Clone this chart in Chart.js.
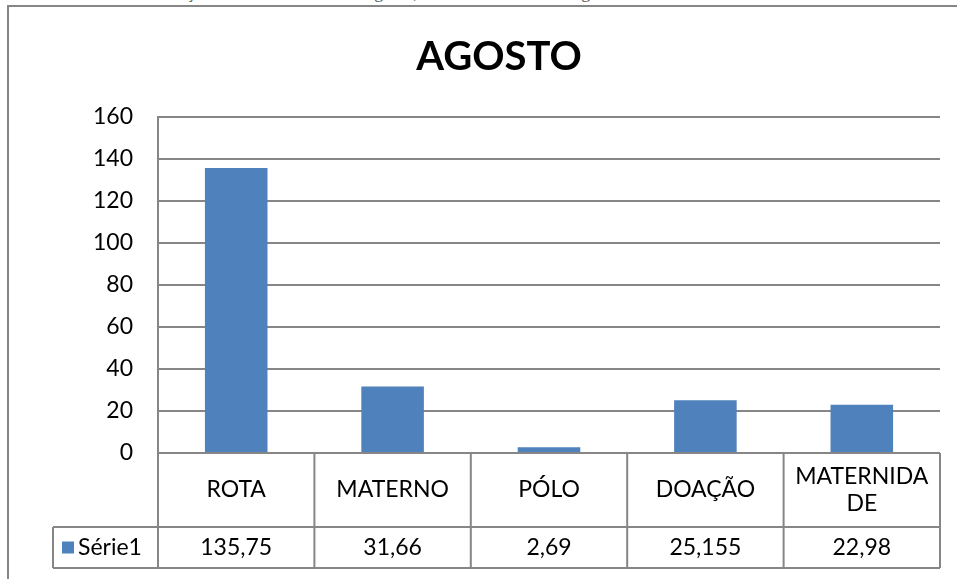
<!DOCTYPE html>
<html>
<head>
<meta charset="utf-8">
<script src="https://cdn.jsdelivr.net/npm/chart.js@4.4.0/dist/chart.umd.min.js"></script>
<style>
	html, body { margin: 0; padding: 0; background: #fff; overflow: hidden; }
	#caption {
		position: absolute; left: 20px; top: -18px; margin: 0;
		font-family: 'Liberation Serif', serif; font-size: 18px; color: #555;
		white-space: nowrap;
	}
	#wrap { position: absolute; left: 0; top: 0; width: 957px; height: 579px; }
</style>
</head>
<body>
<p id="caption">Gráfico 4: Total de doações em kilos do mês de agosto, de acordo com as categorias.</p>
<div id="wrap"><canvas id="chart" width="957" height="579"></canvas></div>
<script>
const categories = ['ROTA', 'MATERNO', 'PÓLO', 'DOAÇÃO', ['MATERNIDA', 'DE']]
const seriesName = 'Série1'
const values = [135.75, 31.66, 2.69, 25.155, 22.98]
const yTicks = [0, 20, 40, 60, 80, 100, 120, 140, 160]

const BAR = '#4F81BD'
const LINE = '#868686'
const FONT = 'Lato'

// border around the whole chart object
const frame = {
	id: 'frame',
	beforeDraw(chart) {
		const c = chart.ctx
		c.save()
		c.strokeStyle = LINE
		c.lineWidth = 2
		c.strokeRect(8, 6, 1200, 1200)
		c.restore()
	},
}

// data table under the plot
const dataTable = {
	id: 'dataTable',
	afterDraw(chart) {
		const c = chart.ctx
		const area = chart.chartArea
		const x = chart.scales.x
		const top = area.bottom
		const mid = top + 74
		const bot = mid + 41
		const legendLeft = 53

		const edges = [area.left]
		for (let i = 1; i < values.length; i++) {
			edges.push((x.getPixelForValue(i - 1) + x.getPixelForValue(i)) / 2)
		}
		edges.push(area.right)

		c.save()
		c.strokeStyle = LINE
		c.lineWidth = 2
		c.beginPath()
		c.moveTo(area.left, top); c.lineTo(area.right, top)
		c.moveTo(legendLeft, mid); c.lineTo(area.right, mid)
		c.moveTo(legendLeft, bot); c.lineTo(area.right, bot)
		c.moveTo(legendLeft, mid); c.lineTo(legendLeft, bot)
		edges.forEach((e) => { c.moveTo(e, top); c.lineTo(e, bot) })
		c.stroke()

		c.fillStyle = '#000'
		c.font = `23px ${FONT}`
		c.textAlign = 'center'
		c.textBaseline = 'middle'
		categories.forEach((cat, i) => {
			const cx = x.getPixelForValue(i)
			const lines = Array.isArray(cat) ? cat : [cat]
			const lh = 27
			const y0 = (top + mid) / 2 - ((lines.length - 1) * lh) / 2
			lines.forEach((l, j) => c.fillText(l, cx, y0 + j * lh))
			c.fillText(String(values[i]).replace('.', ','), cx, (mid + bot) / 2)
		})

		c.fillStyle = BAR
		c.fillRect(62, (mid + bot) / 2 - 6, 12, 12)
		c.fillStyle = '#000'
		c.textAlign = 'left'
		c.fillText(seriesName, 78, (mid + bot) / 2)
		c.restore()
	},
}

new Chart(document.getElementById('chart'), {
	type: 'bar',
	data: {
		labels: categories,
		datasets: [
			{
				label: seriesName,
				data: values,
				backgroundColor: BAR,
				borderWidth: 0,
				barPercentage: 0.4,
				categoryPercentage: 1,
			},
		],
	},
	options: {
		responsive: false,
		animation: false,
		layout: { padding: { top: 0, left: 58, right: 17, bottom: 126 } },
		scales: {
			x: { display: false },
			y: {
				min: 0,
				max: 160,
				afterBuildTicks: (s) => { s.ticks = yTicks.map((v) => ({ value: v })) },
				afterFit: (s) => { s.width = 100 },
				grid: { color: LINE, lineWidth: 2, drawTicks: false },
				border: { color: LINE, width: 2 },
				ticks: { color: '#000', padding: 25, font: { family: FONT, size: 23 } },
			},
		},
		plugins: {
			legend: { display: false },
			tooltip: { enabled: false },
			title: {
				display: true,
				text: 'AGOSTO',
				color: '#000',
				font: { family: FONT, size: 40, weight: 'bold' },
				padding: { top: 33, bottom: 36 },
			},
		},
	},
	plugins: [frame, dataTable],
})
</script>
</body>
</html>
